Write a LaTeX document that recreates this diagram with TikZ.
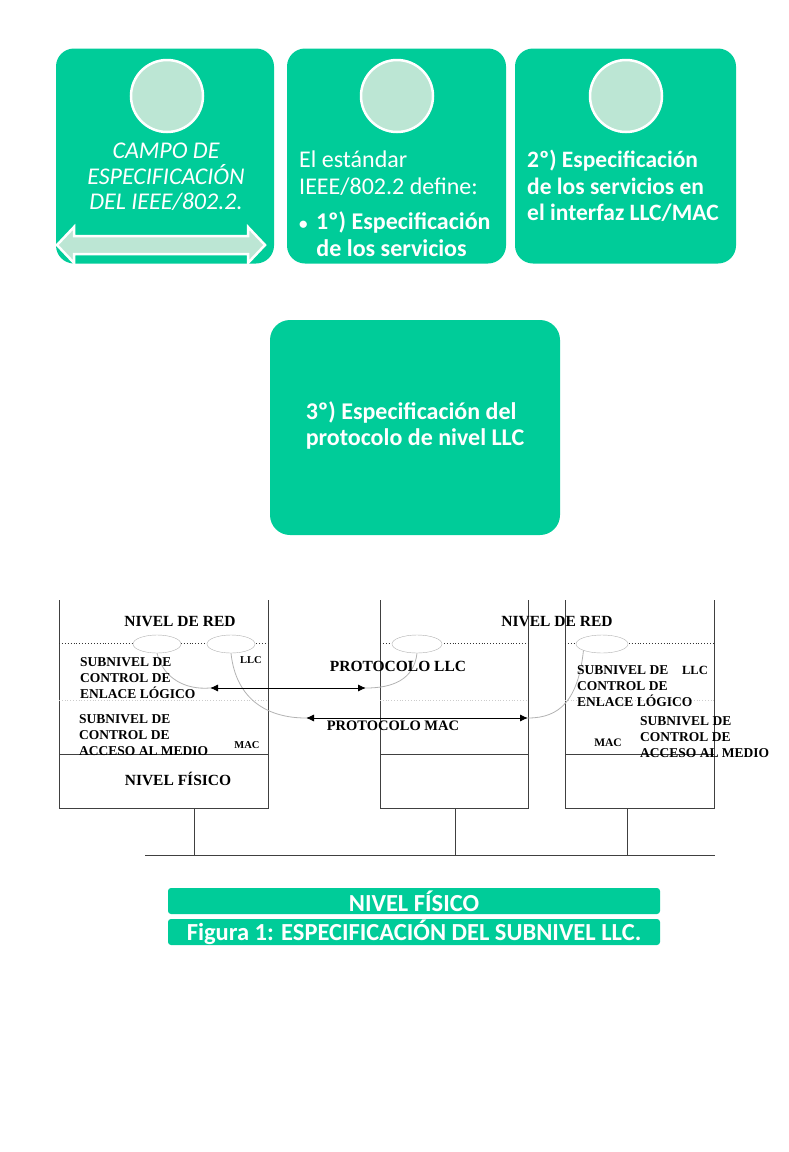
\documentclass[tikz,border=0pt]{standalone}
\usepackage{fontspec}
\setmainfont{Carlito}
\newfontfamily\tnr{Liberation Serif}
\usetikzlibrary{shapes.geometric,arrows.meta}

\definecolor{tealfill}{RGB}{0,204,153}
\definecolor{mintfill}{RGB}{188,230,212}

\begin{document}
\begin{tikzpicture}[
	  x=1pt, y=-1pt,
	  card/.style={fill=tealfill, rounded corners=18pt, minimum height=215pt, inner sep=0pt},
	  disc/.style={circle, fill=mintfill, draw=white, line width=2.5pt, minimum size=72pt, inner sep=0pt},
	  cardtxt/.style={text=white, inner sep=0pt, font=\fontsize{24}{27}\selectfont},
	  band/.style={fill=tealfill, rounded corners=3pt, minimum width=492pt, minimum height=26pt,
	    inner sep=0pt, text=white, font=\fontsize{24.5}{26}\selectfont\bfseries},
	  wall/.style={black!75, line width=0.8pt},
	  sap/.style={ellipse, draw=black!30, fill=white, minimum width=48pt, minimum height=18pt, inner sep=0pt},
	  link/.style={black!30, line width=0.8pt},
	  proto/.style={{Latex[length=8pt,width=7pt]}-{Latex[length=8pt,width=7pt]}, line width=0.8pt},
	  lbl/.style={inner sep=0pt, font=\tnr\bfseries\fontsize{15.5}{16}\selectfont},
	  sub/.style={inner sep=0pt, anchor=west, align=left, font=\tnr\bfseries\fontsize{13.5}{16}\selectfont},
	  tag/.style={inner sep=0pt, font=\tnr\bfseries\fontsize{10.5}{12}\selectfont},
	]

	\useasboundingbox (0,0) rectangle (788,1152);

	\node [card, minimum width=218pt] (cardA) at (165,156) {};
	\node [card, minimum width=219pt] (cardB) at (396.5,156) {};
	\node [card, minimum width=221pt] (cardC) at (625.5,156) {};
	\node [card, minimum width=290pt, rounded corners=20pt] (cardD) at (415,427.5) {};

	\node [disc] (discA) at (167,96) {};
	\node [disc] (discB) at (397,96) {};
	\node [disc] (discC) at (626,96) {};

	\draw [white, line width=2.5pt, fill=mintfill] (57,245) -- (74,227) -- (74,236) -- (248,236)
	  -- (248,227) -- (265,245) -- (248,263) -- (248,254) -- (74,254) -- (74,263) -- cycle;

	\node [cardtxt, align=center, font=\fontsize{24}{25.5}\selectfont\itshape] (campo) at (166,177)
	  {CAMPO DE\\ESPECIFICACIÓN\\DEL IEEE/802.2.};
	\node [cardtxt, anchor=west, align=left] (define) at (299,204)
	  {El estándar\\IEEE/802.2 define:\\[8pt]
	   \textbf{{\fontsize{17}{17}\selectfont•}\hspace{0.35em}1º) Especificación}\\\hspace*{0.72em}\textbf{de los servicios}};
	\node [cardtxt, anchor=west, align=left, font=\fontsize{23.5}{26.5}\selectfont\bfseries] (interfaz) at (527,186)
	  {2º) Especificación\\de los servicios en\\el interfaz LLC/MAC};
	\node [cardtxt, align=left, font=\fontsize{24}{26}\selectfont\bfseries] (protocolo) at (415,425)
	  {3º) Especificación del\\protocolo de nivel LLC};

	\foreach \l/\r/\d in {59/268/194, 380/528/455, 565/714/627} {
	  \draw [wall] (\l,600) |- (\r,808) -- (\r,600);
	  \draw [wall] (\l,754) -- (\r,754);
	  \draw [black!80, dotted, line width=0.9pt] (\l,643) -- (\r,643);
	  \draw [black!20, dotted, line width=0.8pt] (\l,700) -- (\r,700);
	  \draw [wall] (\d,808) -- (\d,855);
	}
	\draw [wall] (145,855) -- (715,855);

	\node [sap] (sapA) at (157,644) {};
	\node [sap] (sapB) at (231,644) {};
	\node [sap, minimum width=50pt] (sapC) at (417,644) {};
	\node [sap, minimum width=52pt] (sapD) at (602,644) {};

	\coordinate (llcL) at (210,688);
	\coordinate (llcR) at (366,688);
	\coordinate (macL) at (306,718);
	\coordinate (macR) at (528,718);

	\draw [link] (sapA.south) .. controls (163,678) and (185,690) .. (llcL);
	\draw [link] (sapB.south) .. controls (236,700) and (268,718) .. (macL);
	\draw [link] (sapC.south) .. controls (414,680) and (392,688) .. (llcR);
	\draw [link] (sapD.south west) .. controls (578,700) and (560,718) .. (macR);

	\draw [proto] (llcL) -- (llcR);
	\draw [proto] (macL) -- (macR);

	\node [lbl] (redA) at (180,622) {NIVEL DE RED};
	\node [sub] (enlaceA) at (80,678) {SUBNIVEL DE\\CONTROL DE\\ENLACE LÓGICO};
	\node [tag] (llcA) at (251,660) {LLC};
	\node [sub] (medioA) at (79,735) {SUBNIVEL DE\\CONTROL DE\\ACCESO AL MEDIO};
	\node [tag] (macA) at (247,745) {MAC};
	\node [lbl] (fisA) at (178,779) {NIVEL FÍSICO};

	\node [lbl] (protLLC) at (398,666) {PROTOCOLO LLC};
	\node [lbl, font=\tnr\bfseries\fontsize{14.5}{16}\selectfont] (protMAC) at (393,726) {PROTOCOLO MAC};

	\node [lbl] (redC) at (557,622) {NIVEL DE RED};
	\node [sub] (enlaceC) at (577,686) {SUBNIVEL DE\\CONTROL DE\\ENLACE LÓGICO};
	\node [tag, font=\tnr\bfseries\fontsize{12.5}{14}\selectfont] (llcC) at (695,670) {LLC};
	\node [sub] (medioC) at (640,737) {SUBNIVEL DE\\CONTROL DE\\ACCESO AL MEDIO};
	\node [tag, font=\tnr\bfseries\fontsize{11.5}{14}\selectfont] (macC) at (608,743) {MAC};

	\node [band] (fisico) at (414,901) {NIVEL FÍSICO};
	\node [band] (figura) at (414,932) {Figura 1: ESPECIFICACIÓN DEL SUBNIVEL LLC.};
\end{tikzpicture}
\end{document}
